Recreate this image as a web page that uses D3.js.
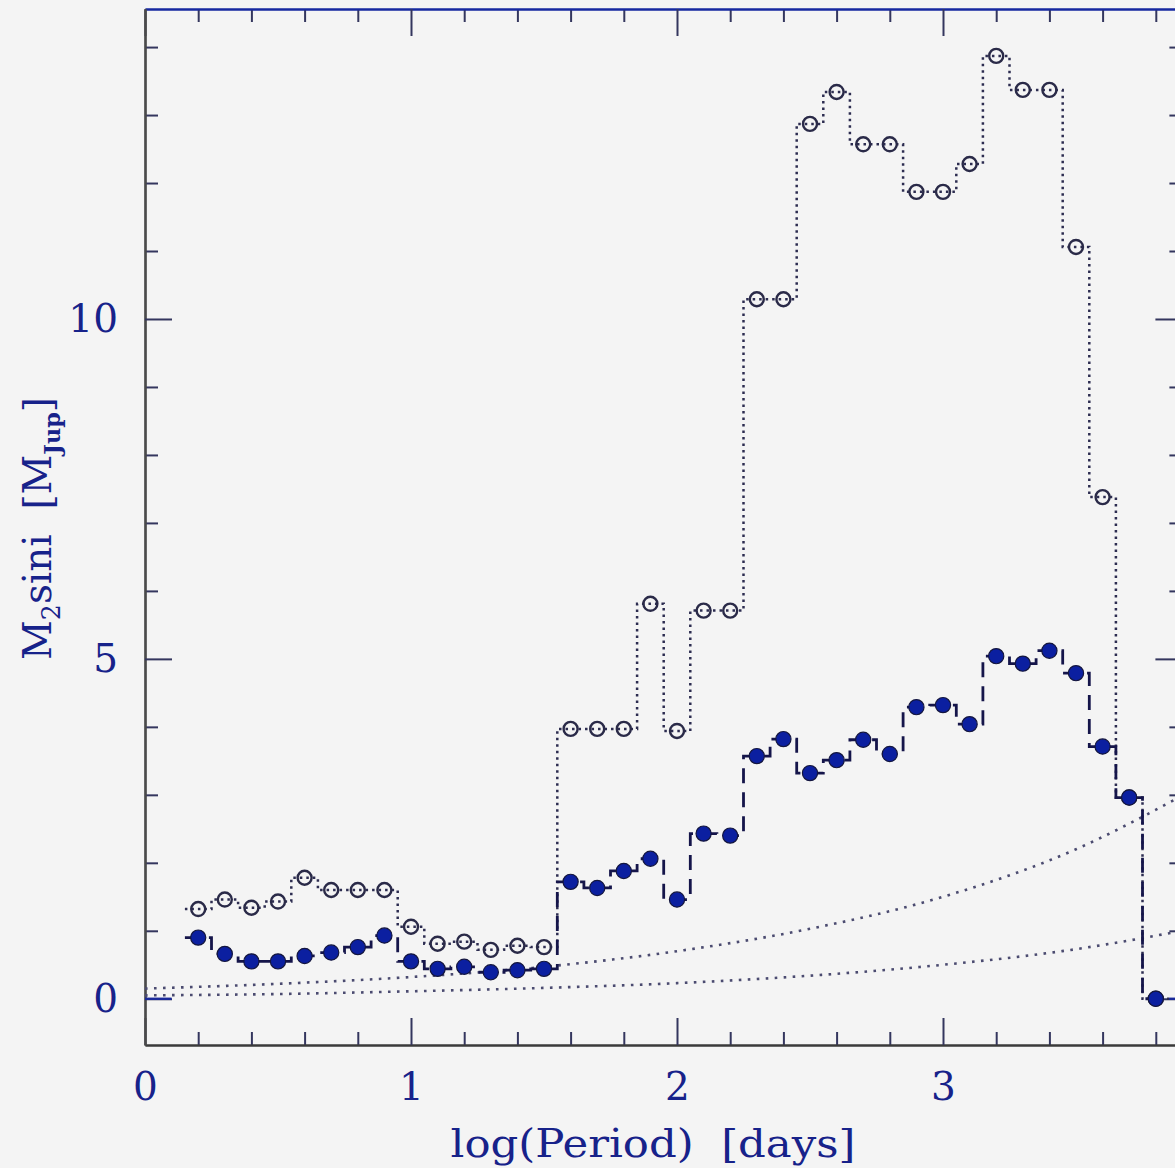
<!DOCTYPE html>
<html>
<head>
<meta charset="utf-8">
<script src="https://cdn.jsdelivr.net/npm/d3@7"></script>
<style>
  html, body { margin: 0; padding: 0; background: #f4f4f4; }
  svg { display: block; }
  text { font-family: "DejaVu Serif", "Liberation Serif", serif; }
</style>
</head>
<body>
<script>
// ---------------- data ----------------
const binCenters = [0.2,0.3,0.4,0.5,0.6,0.7,0.8,0.9,1.0,1.1,1.2,1.3,1.4,1.5,1.6,1.7,1.8,1.9,2.0,2.1,2.2,2.3,2.4,2.5,2.6,2.7,2.8,2.9,3.0,3.1,3.2,3.3,3.4,3.5,3.6,3.7,3.8];
const openMass   = [1.32,1.46,1.34,1.43,1.78,1.60,1.60,1.60,1.06,0.81,0.84,0.72,0.78,0.76,3.97,3.97,3.97,5.81,3.94,5.71,5.71,10.29,10.29,12.87,13.34,12.57,12.57,11.87,11.87,12.28,13.87,13.37,13.37,11.06,7.38,2.96,0.00];
const filledMass = [0.90,0.66,0.55,0.55,0.63,0.68,0.76,0.93,0.55,0.44,0.47,0.39,0.42,0.44,1.72,1.63,1.88,2.06,1.46,2.43,2.40,3.57,3.82,3.32,3.51,3.81,3.60,4.29,4.32,4.04,5.04,4.93,5.12,4.79,3.71,2.96,0.00];
const binHalfWidth = 0.05;
const emptyBins = [[0.0, 0.1], [3.85, 3.9]];   // zero-mass bins drawn as solid segments

const limitX     = [0, 0.5, 1.0, 1.5, 2.0, 2.5, 3.0, 3.5, 3.9];
const limitUpper = [0.15, 0.22, 0.32, 0.47, 0.70, 1.03, 1.50, 2.20, 2.99];
const limitLower = [0.05, 0.07, 0.11, 0.16, 0.23, 0.34, 0.50, 0.73, 1.00];

const xMajorTicks = [0, 1, 2, 3];
const xMinorTicks = [0.2,0.4,0.6,0.8,1.2,1.4,1.6,1.8,2.2,2.4,2.6,2.8,3.2,3.4,3.6,3.8];
const yMajorTicks = [0, 5, 10];
const yMinorTicks = [1,2,3,4,6,7,8,9,11,12,13,14];

// ---------------- layout ----------------
const W = 1175, H = 1168;
const x = d3.scaleLinear().domain([0, 3.9]).range([145, 145 + 3.9 * 266]);
const y = d3.scaleLinear().domain([-0.68, 14.56]).range([1045, 9]);
const pLeft = x.range()[0], pRight = x.range()[1], pTop = y.range()[1], pBottom = y.range()[0];

const textCol = "#17228a";
const tickCol = "#34365e";

const svg = d3.select("body").append("svg").attr("width", W).attr("height", H);
svg.append("rect").attr("width", W).attr("height", H).attr("fill", "#f4f4f4");

svg.append("defs").append("clipPath").attr("id", "plotclip")
  .append("rect").attr("x", pLeft).attr("y", pTop).attr("width", pRight - pLeft).attr("height", pBottom - pTop);

// ---------------- axes ----------------
function styleAxis(g, col) {
  g.selectAll(".domain").attr("stroke", col).attr("stroke-width", 2.2);
  g.selectAll(".tick line").attr("stroke", tickCol).attr("stroke-width", 2);
  g.selectAll("text").attr("fill", textCol).attr("font-size", 39)
    .attr("font-family", "'DejaVu Serif', serif");
}

// bottom
svg.append("g").attr("transform", `translate(0,${pBottom})`)
  .call(d3.axisBottom(x).tickValues(xMinorTicks).tickSizeInner(-13).tickSizeOuter(0).tickFormat(""))
  .call(g => styleAxis(g, "#3a3a3a"));
svg.append("g").attr("transform", `translate(0,${pBottom})`)
  .call(d3.axisBottom(x).tickValues(xMajorTicks).tickSizeInner(-27).tickSizeOuter(0).tickPadding(27).tickFormat(d3.format("d")))
  .call(g => styleAxis(g, "#3a3a3a"));
// top
svg.append("g").attr("transform", `translate(0,${pTop})`)
  .call(d3.axisTop(x).tickValues(xMinorTicks).tickSizeInner(-13).tickSizeOuter(0).tickFormat(""))
  .call(g => styleAxis(g, "#1628a0"));
svg.append("g").attr("transform", `translate(0,${pTop})`)
  .call(d3.axisTop(x).tickValues(xMajorTicks).tickSizeInner(-27).tickSizeOuter(0).tickFormat(""))
  .call(g => styleAxis(g, "#1628a0"));
// left
svg.append("g").attr("transform", `translate(${pLeft},0)`)
  .call(d3.axisLeft(y).tickValues(yMinorTicks).tickSizeInner(-13).tickSizeOuter(0).tickFormat(""))
  .call(g => styleAxis(g, "#4a4a4a"));
svg.append("g").attr("transform", `translate(${pLeft},0)`)
  .call(d3.axisLeft(y).tickValues(yMajorTicks).tickSizeInner(-27).tickSizeOuter(0).tickPadding(27).tickFormat(d3.format("d")))
  .call(g => styleAxis(g, "#4a4a4a"));
// right
svg.append("g").attr("transform", `translate(${pRight},0)`)
  .call(d3.axisRight(y).tickValues(yMinorTicks).tickSizeInner(-13).tickSizeOuter(0).tickFormat(""))
  .call(g => styleAxis(g, "#1628a0"));
svg.append("g").attr("transform", `translate(${pRight},0)`)
  .call(d3.axisRight(y).tickValues(yMajorTicks).tickSizeInner(-27).tickSizeOuter(0).tickFormat(""))
  .call(g => styleAxis(g, "#1628a0"));

// ---------------- plot content ----------------
const plot = svg.append("g").attr("clip-path", "url(#plotclip)");

const lineXY = d3.line().x(d => x(d[0])).y(d => y(d[1]));

// detection-limit curves
const smooth = d3.line().x(d => x(d[0])).y(d => y(d[1])).curve(d3.curveMonotoneX);
[limitUpper, limitLower].forEach(arr => {
  plot.append("path")
    .attr("d", smooth(limitX.map((v, i) => [v, arr[i]])))
    .attr("fill", "none").attr("stroke", "#4b4b70").attr("stroke-width", 2.6)
    .attr("stroke-dasharray", "2.6,6.4");
});

// histogram-like step outlines (each bin spans center ± half width)
function stepPoints(vals) {
  const pts = [];
  binCenters.forEach((c, i) => {
    pts.push([c - binHalfWidth, vals[i]]);
    pts.push([c + binHalfWidth, vals[i]]);
  });
  return pts;
}

plot.append("path").attr("d", lineXY(stepPoints(openMass)))
  .attr("fill", "none").attr("stroke", "#2c2c50").attr("stroke-width", 2.5)
  .attr("stroke-dasharray", "2.5,4");

plot.append("path").attr("d", lineXY(stepPoints(filledMass)))
  .attr("fill", "none").attr("stroke", "#15154a").attr("stroke-width", 2.8)
  .attr("stroke-dasharray", "15,9");

emptyBins.forEach(b => {
  plot.append("path").attr("d", lineXY([[b[0], 0], [b[1], 0]]))
    .attr("fill", "none").attr("stroke", "#1a2a9a").attr("stroke-width", 2.4);
});

// open circles
plot.selectAll("circle.open").data(binCenters).join("circle").attr("class", "open")
  .attr("cx", d => x(d)).attr("cy", (d, i) => y(openMass[i])).attr("r", 7)
  .attr("fill", "none").attr("stroke", "#2a2a48").attr("stroke-width", 2.4);

// filled circles
plot.selectAll("circle.filled").data(binCenters).join("circle").attr("class", "filled")
  .attr("cx", d => x(d)).attr("cy", (d, i) => y(filledMass[i])).attr("r", 7.6)
  .attr("fill", "#0b1fa0").attr("stroke", "#14163e").attr("stroke-width", 1.2);

// ---------------- titles ----------------
function fitWidth(sel, target) {
  const w = sel.node().getComputedTextLength ? sel.node().getComputedTextLength() : sel.node().getBBox().width;
  return target / w;
}

const xt = svg.append("text")
  .attr("text-anchor", "middle").attr("font-size", 40).attr("fill", textCol)
  .attr("xml:space", "preserve").style("white-space", "pre")
  .text("log(Period)  [days]");
const sx = fitWidth(xt, 405);
xt.attr("transform", `translate(653,1157) scale(${sx},1)`);

const yt = svg.append("text")
  .attr("text-anchor", "middle").attr("font-size", 40).attr("fill", textCol)
  .attr("xml:space", "preserve").style("white-space", "pre");
yt.append("tspan").text("M");
yt.append("tspan").attr("font-size", 26).attr("dy", 9).text("2");
yt.append("tspan").attr("dy", -9).text("sini  [M");
yt.append("tspan").attr("font-size", 23).attr("font-weight", "bold").attr("dy", 9).text("Jup");
yt.append("tspan").attr("dy", -9).text("]");
const sy = 263 / yt.node().getBBox().width;
yt.attr("transform", `translate(51,528.5) rotate(-90) scale(${sy},1)`);
</script>
</body>
</html>
